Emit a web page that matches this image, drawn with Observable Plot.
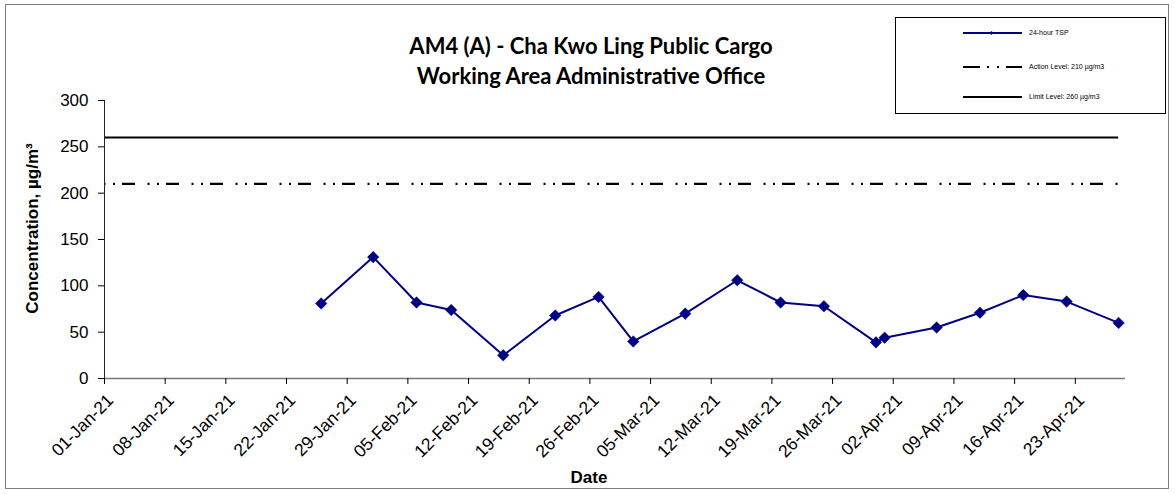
<!DOCTYPE html>
<html>
<head>
<meta charset="utf-8">
<script src="https://cdn.jsdelivr.net/npm/d3@7"></script>
<script src="https://cdn.jsdelivr.net/npm/@observablehq/plot@0.6"></script>
<style>
  html, body { margin: 0; padding: 0; background: #fff; }
  #wrap { position: relative; width: 1175px; height: 494px; overflow: hidden; font-family: "Liberation Sans", Arial, sans-serif; }
  #frame { position: absolute; left: 5px; top: 4px; width: 1164px; height: 485px; border: 1px solid #808080; box-sizing: border-box; pointer-events: none; }
  #title { position: absolute; left: 0; width: 1182px; top: 31px; text-align: center; font-family: Lato, "Open Sans", sans-serif; font-weight: bold; font-size: 22px; line-height: 30px; color: #000; }
  #legend { position: absolute; left: 895px; top: 17px; width: 271px; height: 97px; border: 1px solid #000; box-sizing: border-box; background: #fff; }
  #legend .row { position: absolute; left: 0; height: 10px; }
  #legend svg { position: absolute; left: 67px; top: 0; }
  #legend span { position: absolute; left: 133px; top: 0; font-size: 7px; line-height: 10px; white-space: nowrap; color: #000; font-family: "Liberation Sans", Arial, sans-serif; }
  #chart { position: absolute; left: 0; top: 0; }
</style>
</head>
<body>
<div id="wrap">
  <div id="chart"></div>
  <div id="frame"></div>
  <div id="title"></div>
  <div id="legend"></div>
</div>
<script>
// ---- data ----
const titleLines = ["AM4 (A) - Cha Kwo Ling Public Cargo", "Working Area Administrative Office"];
const sampleDates = ["2021-01-26","2021-02-01","2021-02-06","2021-02-10","2021-02-16","2021-02-22","2021-02-27",
  "2021-03-03","2021-03-09","2021-03-15","2021-03-20","2021-03-25","2021-03-31","2021-04-01","2021-04-07",
  "2021-04-12","2021-04-17","2021-04-22","2021-04-28"];
const tspValues = [81, 131, 82, 74, 25, 68, 88, 40, 70, 106, 82, 78, 39, 44, 55, 71, 90, 83, 60];
const actionLevel = 210;
const limitLevel = 260;
const seriesNames = ["24-hour TSP", "Action Level: 210 µg/m3", "Limit Level: 260 µg/m3"];
const xTickLabels = ["01-Jan-21","08-Jan-21","15-Jan-21","22-Jan-21","29-Jan-21","05-Feb-21","12-Feb-21",
  "19-Feb-21","26-Feb-21","05-Mar-21","12-Mar-21","19-Mar-21","26-Mar-21","02-Apr-21","09-Apr-21",
  "16-Apr-21","23-Apr-21"];
const yTicks = [0, 50, 100, 150, 200, 250, 300];
const xStart = "2021-01-01";
const xEnd = "2021-04-28T19:00Z";
const yLabel = "Concentration, µg/m³";
const xLabel = "Date";

// ---- build ----
const parseTick = d3.utcParse("%d-%b-%y");
const fmtTick = d3.utcFormat("%d-%b-%y");
const tickDates = xTickLabels.map(parseTick);
const data = sampleDates.map((d, i) => ({date: new Date(d), value: tspValues[i]}));
const start = new Date(xStart);
const last = data[data.length - 1].date;
const navy = "#000080";

const chart = Plot.plot({
  width: 1175,
  height: 494,
  marginLeft: 104,
  marginRight: 50,
  marginTop: 100,
  marginBottom: 116,
  style: {fontFamily: "'Liberation Sans', Arial, sans-serif", color: "#000", background: "transparent"},
  x: {type: "utc", domain: [start, new Date(xEnd)]},
  y: {domain: [0, 300]},
  marks: [
    Plot.ruleY([limitLevel], {x1: start, x2: last, stroke: "#000", strokeWidth: 2}),
    Plot.ruleY([actionLevel], {x1: start, x2: last, stroke: "#000", strokeWidth: 2.2,
      strokeDasharray: "13,12.5,2,7.5,2,7", strokeDashoffset: 26}),
    Plot.line(data, {x: "date", y: "value", stroke: navy, strokeWidth: 2}),
    Plot.dot(data, {x: "date", y: "value", symbol: "diamond2", r: 5.2, fill: navy, stroke: navy, strokeWidth: 0.5}),
    Plot.ruleY([0], {stroke: "#7a7a7a", strokeWidth: 1.5}),
    Plot.ruleX([start], {stroke: "#222", strokeWidth: 1}),
    Plot.axisY({ticks: yTicks, tickSize: 6, tickPadding: 10, fontSize: 17, label: null, tickFormat: d => d}),
    Plot.axisX({ticks: tickDates, tickFormat: () => "", tickSize: 6, label: null}),
    Plot.axisX({ticks: tickDates, tickFormat: fmtTick, tickSize: 0, tickPadding: 19, tickRotate: -45, fontSize: 17.5, dx: 6, label: null}),
    Plot.text([yLabel], {frameAnchor: "left", textAnchor: "middle", dx: -72, dy: -11, rotate: -90, fontWeight: "bold", fontSize: 17}),
    Plot.text([xLabel], {frameAnchor: "bottom", dx: -26, dy: 104, fontWeight: "bold", fontSize: 17})
  ]
});
document.getElementById("chart").appendChild(chart);

// title
document.getElementById("title").innerHTML = titleLines.join("<br>");

// legend
const legend = document.getElementById("legend");
const rowsY = [10, 44, 74];
const samples = [
  `<line x1="0" y1="5" x2="59" y2="5" stroke="${navy}" stroke-width="2"/><rect x="27" y="3.5" width="3" height="3" fill="${navy}" transform="rotate(45 28.5 5)"/>`,
  `<line x1="0" y1="5" x2="59" y2="5" stroke="#000" stroke-width="2.2" stroke-dasharray="17,7,2,8,2,7,16"/>`,
  `<line x1="0" y1="5" x2="59" y2="5" stroke="#000" stroke-width="2"/>`
];
seriesNames.forEach((name, i) => {
  const row = document.createElement("div");
  row.className = "row";
  row.style.top = rowsY[i] + "px";
  row.innerHTML = `<svg width="60" height="10">${samples[i]}</svg><span>${name}</span>`;
  legend.appendChild(row);
});
</script>
</body>
</html>
